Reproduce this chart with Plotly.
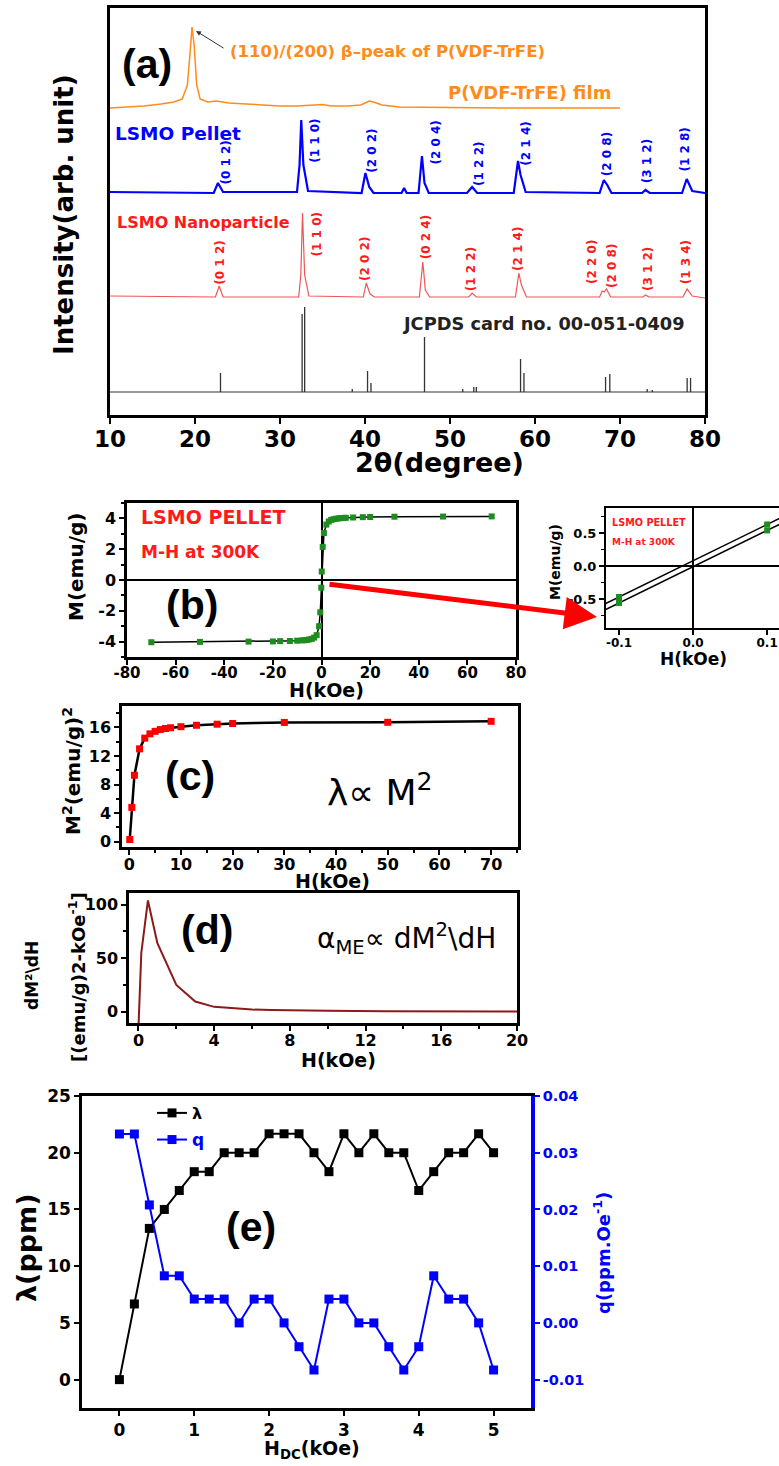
import plotly.graph_objects as go

W, H = 779, 1466
FONT = "DejaVu Sans, Liberation Sans, Arial, sans-serif"
LAB_FONT = "Liberation Sans, Arial, sans-serif"

# ---------------- Panel (a): XRD ----------------
film_2theta = [10, 12, 14, 16, 17.5, 18.5, 19.1, 19.4, 19.65, 19.9, 20.2, 20.6, 21.5, 22.5, 24, 26, 28, 30,
               32, 34, 35, 36, 38, 39.5, 40.5, 41, 42, 44, 48, 52, 56, 60, 65, 70]
film_int = [307, 308, 309, 311, 313, 316, 330, 360, 388, 370, 330, 316, 313, 314, 312, 311, 310, 309,
            309, 309.5, 310.5, 309, 309, 310, 314, 313, 310, 308, 307.5, 307, 307, 307, 307, 307]

pellet_2theta = [10, 22.2, 22.7, 23.3, 32.0, 32.3, 32.5, 32.75, 33.3, 39.6, 40.05, 40.5, 41.0, 44.3, 44.6, 44.9,
                 46.3, 46.7, 47.0, 47.5, 52.0, 52.6, 53.2, 57.5, 58.0, 58.3, 58.9, 67.6, 68.1, 68.5, 69.0,
                 72.6, 73.0, 73.5, 77.3, 77.85, 78.5, 80]
pellet_int = [223, 222, 232, 223, 223, 250, 295, 250, 224, 222, 242, 228, 222, 222, 227, 222,
              222, 259, 232, 222, 222, 228, 222, 222, 254, 240, 223, 222, 235, 230, 222,
              222, 225, 222, 222, 236, 224, 222]

nano_2theta = [10, 22.4, 22.85, 23.3, 32.2, 32.45, 32.65, 32.9, 33.4, 39.8, 40.15, 40.6, 41.1, 46.4, 46.8, 47.1,
               47.6, 52.2, 52.6, 53.1, 57.7, 58.1, 58.4, 59.0, 67.6, 67.9, 68.15, 68.4, 68.9, 72.7, 73.0, 73.4,
               77.4, 77.9, 78.5, 80]
nano_int = [119, 118, 129, 118, 118, 140, 202, 140, 119, 118, 132, 121, 118, 118, 153, 125,
            118, 118, 122, 118, 118, 142, 130, 118, 118, 124, 123, 126, 118, 118, 120, 118,
            118, 126, 119, 117]

jcpds_2theta = [23.0, 32.6, 32.9, 38.5, 40.3, 40.7, 47.0, 51.5, 52.8, 53.1, 58.3, 58.7, 68.3, 68.8,
                73.2, 73.8, 77.9, 78.3]
jcpds_int = [42, 101, 108, 26, 44, 32, 78, 26, 28, 28, 56, 42, 38, 41, 26, 25, 37, 37]
jcpds_base = 23

pellet_hkl = ["(0 1 2)", "(1 1 0)", "(2 0 2)", "(2 0 4)", "(1 2 2)", "(2 1 4)", "(2 0 8)", "(3 1 2)", "(1 2 8)"]
pellet_hkl_x = [23.6, 34.1, 40.8, 48.3, 53.4, 58.9, 68.5, 73.2, 77.6]
pellet_hkl_y = [252, 274, 264, 272, 251, 271, 261, 254, 265]

nano_hkl = ["(0 1 2)", "(1 1 0)", "(2 0 2)", "(0 2 4)", "(1 2 2)", "(2 1 4)", "(2 2 0)", "(2 0 8)", "(3 1 2)", "(1 3 4)"]
nano_hkl_x = [22.9, 34.4, 40.0, 47.2, 52.5, 58.0, 66.7, 69.05, 73.3, 77.8]
nano_hkl_y = [152, 181, 156, 178, 146, 166, 153, 149, 146, 153]

xrd_ticks = [10, 20, 30, 40, 50, 60, 70, 80]

# ---------------- Panel (b): M-H loop ----------------
mh_H = [-70, -50, -30, -20, -17, -13, -10, -8, -7, -6, -5, -4, -3, -2, -1, -0.5, -0.1,
        0.1, 0.5, 1, 2, 3, 4, 5, 6, 7, 8, 9, 10, 13, 17, 20, 30, 50, 70]
mh_M = [-4.04, -4.02, -4.0, -3.99, -3.97, -3.96, -3.94, -3.92, -3.91, -3.89, -3.86, -3.82, -3.74, -3.58,
        -3.0, -2.1, -0.5, 0.55, 2.15, 3.05, 3.6, 3.8, 3.9, 3.95, 3.98, 4.0, 4.02, 4.03, 4.04, 4.06,
        4.08, 4.09, 4.11, 4.12, 4.13]
b_xticks = [-80, -60, -40, -20, 0, 20, 40, 60, 80]
b_xtext = ["-80", "-60", "-40", "-20", "0", "20", "40", "60", "80"]
b_yticks = [-4, -2, 0, 2, 4]
b_ytext = ["-4", "-2", "0", "2", "4"]

# inset: low-field zoom of the loop
inset_H = [-0.2, -0.1, 0.1, 0.2]
inset_M_up = [-1.02, -0.47, 0.63, 1.18]
inset_M_down = [-1.11, -0.56, 0.54, 1.09]
in_xticks = [-0.1, 0.0, 0.1]
in_xtext = ["-0.1", "0.0", "0.1"]
in_yticks = [-0.5, 0.0, 0.5]
in_ytext = ["-0.5", "0.0", "0.5"]

# ---------------- Panel (c): M^2 vs H ----------------
m2_H = [0.1, 0.5, 1, 2, 3, 4, 5, 6, 7, 8, 10, 13, 17, 20, 30, 50, 70]
m2_val = [0.3, 4.8, 9.3, 13.0, 14.5, 15.1, 15.45, 15.7, 15.85, 15.95, 16.1, 16.3, 16.45, 16.55, 16.7, 16.72, 16.85]

# ---------------- Panel (d): dM^2/dH ----------------
d_H = [0, 0.15, 0.5, 1, 2, 3, 4, 5, 6, 7, 8, 10, 13, 17, 20]
d_val = [-15, 55, 104, 64, 25, 9.5, 4.5, 3, 2, 1.5, 1.2, 0.8, 0.5, 0.3, 0.2]

# ---------------- Panel (e): lambda and q ----------------
e_H = [0, 0.2, 0.4, 0.6, 0.8, 1.0, 1.2, 1.4, 1.6, 1.8, 2.0, 2.2, 2.4, 2.6, 2.8, 3.0, 3.2, 3.4,
       3.6, 3.8, 4.0, 4.2, 4.4, 4.6, 4.8, 5.0]
e_lambda = [0, 6.67, 13.33, 15, 16.67, 18.33, 18.33, 20, 20, 20, 21.67, 21.67, 21.67, 20, 18.33, 21.67,
            20, 21.67, 20, 20, 16.67, 18.33, 20, 20, 21.67, 20]
e_q = [0.0333, 0.0333, 0.0208, 0.0083, 0.0083, 0.0042, 0.0042, 0.0042, 0.0, 0.0042, 0.0042, 0.0, -0.0042,
       -0.0083, 0.0042, 0.0042, 0.0, 0.0, -0.0042, -0.0083, -0.0042, 0.0083, 0.0042, 0.0042, 0.0, -0.0083]
e_qticks = [-0.01, 0.0, 0.01, 0.02, 0.03, 0.04]
e_qtext = ["-0.01", "0.00", "0.01", "0.02", "0.03", "0.04"]

# ---------------- colours ----------------
ORANGE = "#FF8C1A"
BLUE = "#0000FF"
RED = "#FF1A1A"
REDLINE = "#EE5555"
GREEN = "#1E8C1E"
MAROON = "#8B1A1A"


def dom(p0, p1, horizontal=True):
    if horizontal:
        return [p0 / W, p1 / W]
    return [1 - p1 / H, 1 - p0 / H]


def F(size, color="black", bold=True, family=FONT):
    return dict(family=family, size=size, color=color, weight="bold" if bold else "normal")


def ann(text, px, py, size, color="black", bold=True, xanchor="center", yanchor="middle", angle=0, family=FONT):
    return dict(text=text, x=px / W, y=1 - py / H, xref="paper", yref="paper", showarrow=False,
                font=F(size, color, bold, family), xanchor=xanchor, yanchor=yanchor, textangle=angle)


fig = go.Figure()

# Panel (a)
sx, sy = [], []
for p, h in zip(jcpds_2theta, jcpds_int):
    sx += [p, p, None]
    sy += [jcpds_base, h, None]
fig.add_trace(go.Scatter(x=[10, 80], y=[jcpds_base, jcpds_base], mode="lines",
                         line=dict(color="#333333", width=1), xaxis="x", yaxis="y", showlegend=False))
fig.add_trace(go.Scatter(x=sx, y=sy, mode="lines", line=dict(color="#333333", width=1.3),
                         xaxis="x", yaxis="y", showlegend=False))
fig.add_trace(go.Scatter(x=film_2theta, y=film_int, mode="lines", line=dict(color=ORANGE, width=1.5),
                         xaxis="x", yaxis="y", showlegend=False))
fig.add_trace(go.Scatter(x=pellet_2theta, y=pellet_int, mode="lines", line=dict(color=BLUE, width=2.2),
                         xaxis="x", yaxis="y", showlegend=False))
fig.add_trace(go.Scatter(x=nano_2theta, y=nano_int, mode="lines", line=dict(color=REDLINE, width=1.2),
                         xaxis="x", yaxis="y", showlegend=False))

# Panel (b)
fig.add_trace(go.Scatter(x=mh_H, y=mh_M, mode="lines+markers", line=dict(color="black", width=1.5),
                         marker=dict(symbol="square", size=6, color=GREEN),
                         xaxis="x2", yaxis="y2", showlegend=False))
# inset
for mm in (inset_M_up, inset_M_down):
    fig.add_trace(go.Scatter(x=inset_H, y=mm, mode="lines+markers", line=dict(color="black", width=1.5),
                             marker=dict(symbol="square", size=6, color=GREEN),
                             xaxis="x3", yaxis="y3", showlegend=False))

# Panel (c)
fig.add_trace(go.Scatter(x=m2_H, y=m2_val, mode="lines+markers", line=dict(color="black", width=2.5),
                         marker=dict(symbol="square", size=7, color="#FF0000"),
                         xaxis="x4", yaxis="y4", showlegend=False))

# Panel (d)
fig.add_trace(go.Scatter(x=d_H, y=d_val, mode="lines", line=dict(color=MAROON, width=2),
                         xaxis="x5", yaxis="y5", showlegend=False))

# Panel (e)
fig.add_trace(go.Scatter(x=e_H, y=e_lambda, mode="lines+markers", name="λ",
                         line=dict(color="black", width=2), marker=dict(symbol="square", size=9, color="black"),
                         xaxis="x6", yaxis="y6", legend="legend"))
fig.add_trace(go.Scatter(x=e_H, y=e_q, mode="lines+markers", name="q",
                         line=dict(color=BLUE, width=2), marker=dict(symbol="square", size=9, color=BLUE),
                         xaxis="x6", yaxis="y7", legend="legend2"))

base_ax = dict(showgrid=False, zeroline=False, showline=True, linecolor="black", linewidth=2.5,
               ticks="outside", ticklen=5, tickwidth=2, tickcolor="black", automargin=False)


def minor(vals, length=3, width=1.5, color="black"):
    return dict(tickmode="array", tickvals=vals, ticks="outside", ticklen=length, tickwidth=width,
                tickcolor=color)


layout = dict(
    width=W, height=H, margin=dict(l=0, r=0, t=0, b=0, autoexpand=False),
    paper_bgcolor="white", plot_bgcolor="white",
    font=dict(family=FONT, color="black"),
    # (a)
    xaxis=dict(base_ax, domain=dom(110, 705), range=[10, 80], tickmode="array", tickvals=xrd_ticks,
               ticktext=[str(v) for v in xrd_ticks], tickfont=F(23), mirror=True, linewidth=3,
               ticklen=6, anchor="y", ticklabelstandoff=-5),
    yaxis=dict(base_ax, domain=dom(8, 415, False), range=[0, 407], showticklabels=False, ticks="",
               mirror=True, linewidth=3, anchor="x"),
    # (b)
    xaxis2=dict(base_ax, domain=dom(127, 516), range=[-80, 80], tickmode="array", tickvals=b_xticks,
                ticktext=b_xtext, tickfont=F(15), mirror=True, anchor="y2", ticklabelstandoff=-5,
                zeroline=True, zerolinecolor="black", zerolinewidth=2),
    yaxis2=dict(base_ax, domain=dom(503, 657, False), range=[-5, 5], tickmode="array", tickvals=b_yticks,
                ticktext=b_ytext, tickfont=F(16), mirror=True, anchor="x2",
                zeroline=True, zerolinecolor="black", zerolinewidth=2,
                minor=minor([-5, -3, -1, 1, 3, 5])),
    # inset
    xaxis3=dict(base_ax, domain=[606 / W, 1.0], range=[-0.1176, 0.116], tickmode="array", tickvals=in_xticks,
                ticktext=in_xtext, tickfont=F(12), mirror=True, anchor="y3", linewidth=2,
                ticklabelstandoff=-2,
                zeroline=True, zerolinecolor="black", zerolinewidth=2),
    yaxis3=dict(base_ax, domain=dom(508, 628, False), range=[-0.94, 0.88], tickmode="array", tickvals=in_yticks,
                ticktext=in_ytext, tickfont=F(13), mirror=False, anchor="x3", linewidth=2,
                zeroline=True, zerolinecolor="black", zerolinewidth=2,
                minor=minor([-0.75, -0.25, 0.25, 0.75], width=1.2)),
    # (c)
    xaxis4=dict(base_ax, domain=dom(122, 518), range=[-1.4, 75.2], tickmode="array",
                tickvals=[0, 10, 20, 30, 40, 50, 60, 70], tickfont=F(16), mirror=True, anchor="y4",
                ticklabelstandoff=-4, minor=minor([5, 15, 25, 35, 45, 55, 65, 75])),
    yaxis4=dict(base_ax, domain=dom(706, 847, False), range=[-0.75, 19], tickmode="array",
                tickvals=[0, 4, 8, 12, 16], tickfont=F(16), mirror=True, anchor="x4",
                minor=minor([2, 6, 10, 14, 18])),
    # (d)
    xaxis5=dict(base_ax, domain=dom(129, 517), range=[-0.5, 20], tickmode="array",
                tickvals=[0, 4, 8, 12, 16, 20], tickfont=F(16), mirror=True, anchor="y5",
                ticklabelstandoff=-4, minor=minor([2, 6, 10, 14, 18])),
    yaxis5=dict(base_ax, domain=dom(893, 1023, False), range=[-10.6, 111], tickmode="array",
                tickvals=[0, 50, 100], tickfont=F(16), mirror=True, anchor="x5",
                minor=minor([25, 75])),
    # (e)
    xaxis6=dict(base_ax, domain=dom(82, 531), range=[-0.5, 5.5], tickmode="array",
                tickvals=[0, 1, 2, 3, 4, 5], tickfont=F(17), mirror=True, anchor="y6"),
    yaxis6=dict(base_ax, domain=dom(1096, 1408, False), range=[-2.5, 25], tickmode="array",
                tickvals=[0, 5, 10, 15, 20, 25], tickfont=F(17), anchor="x6"),
    yaxis7=dict(base_ax, overlaying="y6", side="right", anchor="x6", range=[-0.015, 0.04], tickmode="array",
                tickvals=e_qticks, ticktext=e_qtext, tickfont=F(14.5, BLUE), linecolor=BLUE, linewidth=3.5,
                tickcolor=BLUE),
    legend=dict(x=152 / W, y=1 - 1113 / H, xanchor="left", yanchor="middle", bgcolor="rgba(0,0,0,0)",
                font=F(16, "black"), itemwidth=30, tracegroupgap=0),
    legend2=dict(x=152 / W, y=1 - 1140 / H, xanchor="left", yanchor="middle", bgcolor="rgba(0,0,0,0)",
                 font=F(17, BLUE), itemwidth=30, tracegroupgap=0),
)
fig.update_layout(**layout)

annotations = []
# Panel (a) texts
annotations.append(dict(text="(110)/(200) β–peak of P(VDF-TrFE)", x=23.9, y=364, xref="x", yref="y",
                        showarrow=False, xanchor="left", yanchor="middle", font=F(16.5, ORANGE)))
annotations.append(dict(text="P(VDF-TrFE) film", x=69.2, y=323, xref="x", yref="y", showarrow=False,
                        xanchor="right", yanchor="middle", font=F(18, ORANGE)))
annotations.append(dict(text="LSMO Pellet", x=10.3, y=282, xref="x", yref="y", showarrow=False,
                        xanchor="left", yanchor="middle", font=F(18.5, BLUE)))
annotations.append(dict(text="LSMO Nanoparticle", x=10.6, y=193, xref="x", yref="y", showarrow=False,
                        xanchor="left", yanchor="middle", font=F(16, RED)))
annotations.append(dict(text="JCPDS card no. 00-051-0409", x=44.2, y=92, xref="x", yref="y", showarrow=False,
                        xanchor="left", yanchor="middle", font=F(17.8, "#222222")))
for t, xx, yy in zip(pellet_hkl, pellet_hkl_x, pellet_hkl_y):
    annotations.append(dict(text=t, x=xx, y=yy, xref="x", yref="y", showarrow=False, textangle=-90,
                            font=F(12, BLUE)))
for t, xx, yy in zip(nano_hkl, nano_hkl_x, nano_hkl_y):
    annotations.append(dict(text=t, x=xx, y=yy, xref="x", yref="y", showarrow=False, textangle=-90,
                            font=F(12, RED)))
# arrow to beta peak
annotations.append(dict(text="", x=196 / W, y=1 - 31 / H, xref="paper", yref="paper", showarrow=True,
                        ax=29, ay=18, arrowhead=2, arrowsize=1, arrowwidth=1, arrowcolor="#333333"))
annotations.append(ann("(a)", 147, 64, 41, family=LAB_FONT))
annotations.append(ann("Intensity(arb. unit)", 64, 215, 26, angle=-90))
annotations.append(ann("2θ(degree)", 439, 463, 27))

# Panel (b)
annotations.append(ann("LSMO PELLET", 139, 517, 19, RED, xanchor="left"))
annotations.append(ann("M-H at 300K", 139, 552, 17, RED, xanchor="left"))
annotations.append(ann("(b)", 192, 605, 41, family=LAB_FONT))
annotations.append(ann("M(emu/g)", 76, 567, 20, angle=-90))
annotations.append(ann("H(kOe)", 326, 690, 19))
# red arrow to inset
annotations.append(dict(text="", x=597 / W, y=1 - 617 / H, xref="paper", yref="paper", showarrow=True,
                        ax=-269, ay=-33, arrowhead=2, arrowsize=1.3, arrowwidth=5, arrowcolor="#FF0000"))
# inset texts
annotations.append(ann("LSMO PELLET", 610, 523, 9.7, RED, xanchor="left"))
annotations.append(ann("M-H at 300K", 610, 542, 9, RED, xanchor="left"))
annotations.append(ann("M(emu/g)", 555, 562, 14, angle=-90))
annotations.append(ann("H(kOe)", 693, 659, 17))

# Panel (c)
annotations.append(ann("(c)", 190, 776, 41, family=LAB_FONT))
annotations.append(ann("λ∝ M<sup>2</sup>", 325, 790, 36, bold=False, xanchor="left"))
annotations.append(ann("M<sup>2</sup>(emu/g)<sup>2</sup>", 72, 771, 20, angle=-90))
annotations.append(ann("H(kOe)", 332, 881, 19))

# Panel (d)
annotations.append(ann("(d)", 207, 930, 41, family=LAB_FONT))
annotations.append(ann("α<sub>ME</sub>∝ dM<sup>2</sup>\\dH", 315, 938, 28, bold=False, xanchor="left"))
annotations.append(ann("dM²\\dH", 32, 975, 17, angle=-90))
annotations.append(ann("[(emu/g)2-kOe<sup>-1</sup>]", 77, 977, 18, angle=-90))
annotations.append(ann("H(kOe)", 338, 1060, 19))

# Panel (e)
annotations.append(ann("(e)", 251, 1227, 41, family=LAB_FONT))
annotations.append(ann("λ(ppm)", 26, 1248, 27, angle=-90))
annotations.append(ann("q(ppm.Oe<sup>-1</sup>)", 602, 1253, 18, BLUE, angle=-90))
annotations.append(ann("H<sub>DC</sub>(kOe)", 312, 1449, 19))

fig.update_layout(annotations=annotations)

fig.write_html("out.html", config={"displayModeBar": False},
               post_script="document.body.style.margin='0';document.body.style.padding='0';")
